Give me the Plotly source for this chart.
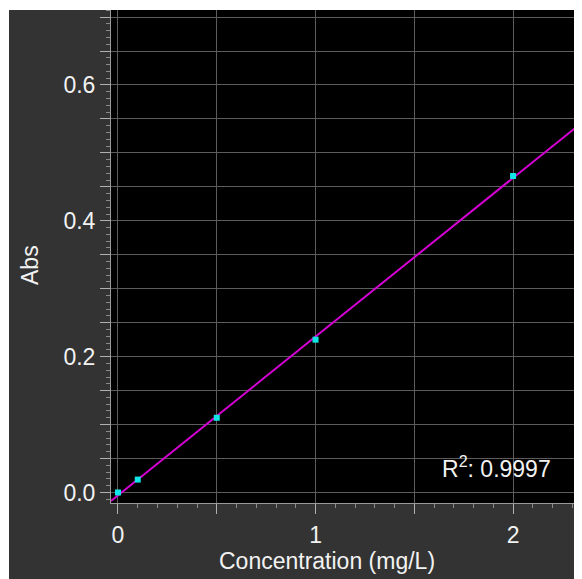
import numpy as np
import plotly.graph_objects as go

# Calibration standards
concentration = [0.0, 0.1, 0.5, 1.0, 2.0]
absorbance = [0.0, 0.019, 0.110, 0.225, 0.466]
r_squared = "0.9997"
x_title = "Concentration (mg/L)"
y_title = "Abs"

x_tickvals = [0, 0.5, 1, 1.5, 2]
x_ticktext = ["0", "", "1", "", "2"]
y_tickvals = [0.0, 0.05, 0.1, 0.15, 0.2, 0.25, 0.3, 0.35, 0.4, 0.45, 0.5, 0.55, 0.6, 0.65, 0.7]
y_ticktext = ["0.0", "", "", "", "0.2", "", "", "", "0.4", "", "", "", "0.6", "", ""]

x_range = [-0.0354, 2.349]
y_range = [-0.0155, 0.7104]

slope, intercept = np.polyfit(concentration, absorbance, 1)
fit_x = np.array(x_range)
fit_y = slope * fit_x + intercept

W, H = 574, 571
ml, mr, mt, mb = 103, 0, 2, 76
pw, ph = W - ml - mr, H - mt - mb

font = "Liberation Sans, Arial, sans-serif"
txt = "#f2f2f2"
tickc = "#b0b0b0"
gridc = "#5c5c5c"
fs = 23

fig = go.Figure()
fig.add_trace(go.Scatter(x=fit_x, y=fit_y, mode="lines",
                         line=dict(color="#d400d4", width=2), hoverinfo="skip"))
fig.add_trace(go.Scatter(x=concentration, y=absorbance, mode="markers",
                         marker=dict(symbol="square", size=6, color="#10e6e6")))

fig.update_layout(
    width=W, height=H,
    margin=dict(l=ml, r=mr, t=mt, b=mb, autoexpand=False),
    paper_bgcolor="#333333", plot_bgcolor="#000000",
    showlegend=False,
    font=dict(family=font, size=fs, color=txt),
    xaxis=dict(range=x_range, tickmode="array", tickvals=x_tickvals, ticktext=x_ticktext,
               ticks="outside", ticklen=10, tickcolor=tickc, tickwidth=1,
               showgrid=True, gridcolor=gridc, gridwidth=1, zeroline=False,
               showline=True, linecolor="#9a9a9a", linewidth=1,
               ticklabelstandoff=1,
               minor=dict(dtick=0.1, ticks="outside", ticklen=4, tickcolor="#8a8a8a", showgrid=False),
               tickfont=dict(family=font, size=fs, color=txt), automargin=False),
    yaxis=dict(range=y_range, tickmode="array", tickvals=y_tickvals, ticktext=y_ticktext,
               ticks="outside", ticklen=10, tickcolor=tickc, tickwidth=1,
               showgrid=True, gridcolor=gridc, gridwidth=1, zeroline=False,
               showline=True, linecolor="#9a9a9a", linewidth=1,
               ticklabelstandoff=0,
               minor=dict(dtick=0.01, ticks="outside", ticklen=4, tickcolor="#8a8a8a", showgrid=False),
               tickfont=dict(family=font, size=fs, color=txt), automargin=False),
    shapes=[
        dict(type="rect", xref="paper", yref="paper", x0=-ml / pw, x1=1.0,
             y0=1.0, y1=1.0 + mt / ph, fillcolor="white", line=dict(width=0), layer="above"),
        dict(type="rect", xref="paper", yref="paper", x0=-ml / pw, x1=-(ml - 1) / pw,
             y0=-mb / ph, y1=1.0 + mt / ph, fillcolor="white", line=dict(width=0), layer="above"),
    ],
    annotations=[
        dict(text="R<sup>2</sup>: " + r_squared, xref="paper", yref="paper",
             x=(545 - ml) / pw, y=(495 - 459) / ph, xanchor="right", yanchor="middle",
             showarrow=False, font=dict(family=font, size=fs, color=txt)),
        dict(text=x_title, xref="paper", yref="paper",
             x=(319 - ml) / pw, y=(495 - 553) / ph, xanchor="center", yanchor="middle",
             showarrow=False, font=dict(family=font, size=fs, color=txt)),
        dict(text=y_title, xref="paper", yref="paper", textangle=-90,
             x=(22 - ml) / pw, y=(495 - 257) / ph, xanchor="center", yanchor="middle",
             showarrow=False, font=dict(family=font, size=fs, color=txt)),
    ],
)

fig.write_html("out.html")
